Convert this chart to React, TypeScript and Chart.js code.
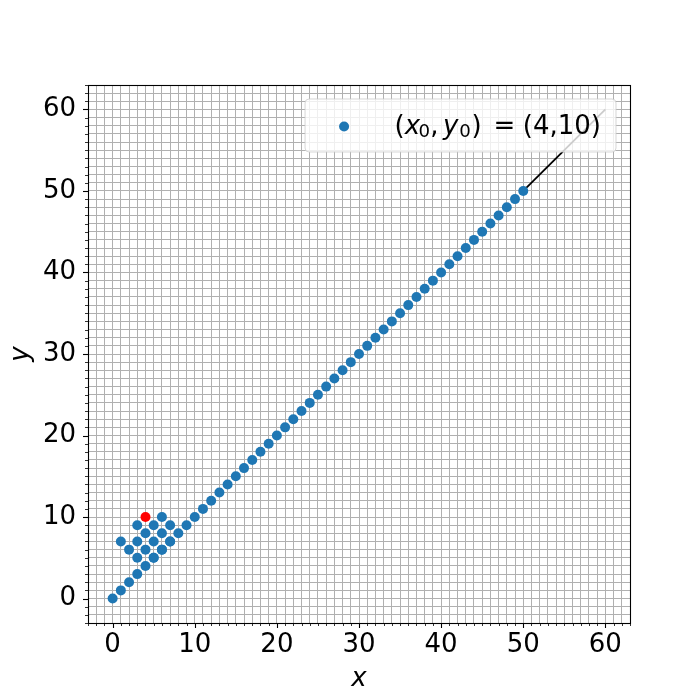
import React, { useEffect, useRef } from "react";
import { Chart, registerables } from "chart.js";

Chart.register(...registerables);

// ---- data ----
const diagonalX = [0,1,2,3,4,5,6,7,8,9,10,11,12,13,14,15,16,17,18,19,20,21,22,23,24,25,26,27,28,29,30,31,32,33,34,35,36,37,38,39,40,41,42,43,44,45,46,47,48,49,50];
const diagonalY = [0,1,2,3,4,5,6,7,8,9,10,11,12,13,14,15,16,17,18,19,20,21,22,23,24,25,26,27,28,29,30,31,32,33,34,35,36,37,38,39,40,41,42,43,44,45,46,47,48,49,50];
const clusterX = [1,2,3,3,3,4,4,5,5,5,6,6,6,7,7];
const clusterY = [7,6,5,7,9,6,8,5,7,9,6,8,10,7,9];
const startX = [4];
const startY = [10];
const lineX = [50, 60];
const lineY = [50, 60];

const axisMin = -3;
const axisMax = 63;
const xTickLabels = [0, 10, 20, 30, 40, 50, 60];
const yTickLabels = [0, 10, 20, 30, 40, 50, 60];

const FONT = "'DejaVu Sans'";
const FS = 26;
const LFS = 26;
const BLUE = "#1f77b4";

const decorPlugin = {
  id: "decor",
  afterDraw(chart: any) {
    const ctx = chart.ctx;
    const area = chart.chartArea;
    const xs = chart.scales.x;
    const ys = chart.scales.y;
    ctx.save();
    // tick marks
    ctx.strokeStyle = "#000";
    for (const t of xs.ticks) {
      const v = t.value;
      const major = xTickLabels.includes(v);
      const px = Math.round(xs.getPixelForValue(v)) + 0.5;
      ctx.lineWidth = major ? 1.1 : 0.8;
      ctx.beginPath();
      ctx.moveTo(px, area.bottom);
      ctx.lineTo(px, area.bottom + (major ? 5 : 3));
      ctx.stroke();
    }
    for (const t of ys.ticks) {
      const v = t.value;
      const major = yTickLabels.includes(v);
      const py = Math.round(ys.getPixelForValue(v)) + 0.5;
      ctx.lineWidth = major ? 1.1 : 0.8;
      ctx.beginPath();
      ctx.moveTo(area.left, py);
      ctx.lineTo(area.left - (major ? 5 : 3), py);
      ctx.stroke();
    }
    // spines
    ctx.lineWidth = 1.1;
    ctx.strokeRect(
      Math.round(area.left) + 0.5,
      Math.round(area.top) + 0.5,
      Math.round(area.right - area.left),
      Math.round(area.bottom - area.top)
    );

    // legend with math-style label
    const pieces: { t: string; italic?: boolean; sub?: boolean; after?: number }[] = [
      { t: "(" },
      { t: "x", italic: true, after: -1.5 },
      { t: "0", sub: true },
      { t: ",", after: 4.5 },
      { t: "y", italic: true, after: 1 },
      { t: "0", sub: true, after: 0.5 },
      { t: ")", after: 12 },
      { t: "=", after: 7.5 },
      { t: "(" + startX[0] + "," + startY[0] + ")" },
    ];
    const fontFor = (p: any) =>
      (p.italic ? "italic " : "") + (p.sub ? LFS * 0.7 : LFS) + "px " + FONT;
    let textW = 0;
    for (const p of pieces) {
      ctx.font = fontFor(p);
      textW += ctx.measureText(p.t).width + (p.after || 0);
    }
    const boxRight = area.right - 14;
    const boxTop = area.top + 14;
    const boxH = 53;
    const textEnd = boxRight - 15;
    const textStart = textEnd - textW;
    const markerX = textStart - 50.5;
    const boxLeft = markerX - 39;
    const r = 4;
    ctx.beginPath();
    ctx.moveTo(boxLeft + r, boxTop);
    ctx.lineTo(boxRight - r, boxTop);
    ctx.quadraticCurveTo(boxRight, boxTop, boxRight, boxTop + r);
    ctx.lineTo(boxRight, boxTop + boxH - r);
    ctx.quadraticCurveTo(boxRight, boxTop + boxH, boxRight - r, boxTop + boxH);
    ctx.lineTo(boxLeft + r, boxTop + boxH);
    ctx.quadraticCurveTo(boxLeft, boxTop + boxH, boxLeft, boxTop + boxH - r);
    ctx.lineTo(boxLeft, boxTop + r);
    ctx.quadraticCurveTo(boxLeft, boxTop, boxLeft + r, boxTop);
    ctx.closePath();
    ctx.fillStyle = "rgba(255,255,255,0.8)";
    ctx.fill();
    ctx.strokeStyle = "rgba(204,204,204,0.8)";
    ctx.lineWidth = 1;
    ctx.stroke();

    const cy = boxTop + boxH / 2;
    ctx.fillStyle = BLUE;
    ctx.beginPath();
    ctx.arc(markerX, cy + 1, 5, 0, Math.PI * 2);
    ctx.fill();

    ctx.fillStyle = "#000";
    ctx.textBaseline = "alphabetic";
    ctx.textAlign = "left";
    let x = textStart;
    const base = cy + 8;
    for (const p of pieces) {
      ctx.font = fontFor(p);
      ctx.fillText(p.t, x, p.sub ? base + 3.7 : base);
      x += ctx.measureText(p.t).width + (p.after || 0);
    }
    ctx.restore();
  },
};

function tickCallback(labels: number[]) {
  return (v: any) => (labels.includes(Number(v)) ? String(v) : "");
}

export default function App() {
  const ref = useRef<HTMLCanvasElement | null>(null);
  useEffect(() => {
    if (!ref.current) return;
    const diag = diagonalX.map((x, i) => ({ x, y: diagonalY[i] }));
    const cluster = clusterX.map((x, i) => ({ x, y: clusterY[i] }));
    const chart = new Chart(ref.current, {
      type: "scatter",
      data: {
        datasets: [
          {
            label: "start",
            data: startX.map((x, i) => ({ x, y: startY[i] })),
            backgroundColor: "#ff0000",
            borderWidth: 0,
            pointRadius: 5,
          },
          {
            label: "(x0, y0) = (4,10)",
            data: [...diag, ...cluster],
            backgroundColor: BLUE,
            borderWidth: 0,
            pointRadius: 5,
          },
          {
            label: "line",
            data: lineX.map((x, i) => ({ x, y: lineY[i] })),
            showLine: true,
            borderColor: "#000",
            borderWidth: 1.8,
            pointRadius: 0,
          } as any,
        ],
      },
      options: {
        animation: false,
        responsive: false,
        devicePixelRatio: 1,
        layout: { padding: { left: 0, right: 70, top: 85, bottom: 0 } },
        plugins: { legend: { display: false }, tooltip: { enabled: false } },
        scales: {
          x: {
            type: "linear",
            min: axisMin,
            max: axisMax,
            border: { display: false },
            grid: { color: "#b0b0b0", lineWidth: 1, drawTicks: false },
            ticks: {
              stepSize: 1,
              autoSkip: false,
              maxRotation: 0,
              minRotation: 0,
              padding: 6.5,
              color: "#000",
              font: { family: "DejaVu Sans", size: FS },
              callback: tickCallback(xTickLabels),
            },
            title: {
              display: true,
              text: "x",
              color: "#000",
              font: { family: "DejaVu Sans", size: FS, style: "italic" },
              padding: { top: 0, bottom: 5 },
            },
            afterFit: (s: any) => {
              s.height = 77;
            },
          },
          y: {
            type: "linear",
            min: axisMin,
            max: axisMax,
            border: { display: false },
            grid: { color: "#b0b0b0", lineWidth: 1, drawTicks: false },
            ticks: {
              stepSize: 1,
              autoSkip: false,
              padding: 12,
              color: "#000",
              font: { family: "DejaVu Sans", size: FS },
              callback: tickCallback(yTickLabels),
            },
            title: {
              display: true,
              text: "y",
              color: "#000",
              font: { family: "DejaVu Sans", size: FS, style: "italic" },
              padding: { top: 6, bottom: 0 },
            },
            afterFit: (s: any) => {
              s.width = 88;
            },
          },
        },
      } as any,
      plugins: [decorPlugin],
    });
    return () => chart.destroy();
  }, []);
  return (
    <div style={{ position: "fixed", left: 0, top: 0, width: 700, height: 700, background: "#fff" }}>
      <canvas ref={ref} width={700} height={700} style={{ width: 700, height: 700, display: "block" }} />
    </div>
  );
}
